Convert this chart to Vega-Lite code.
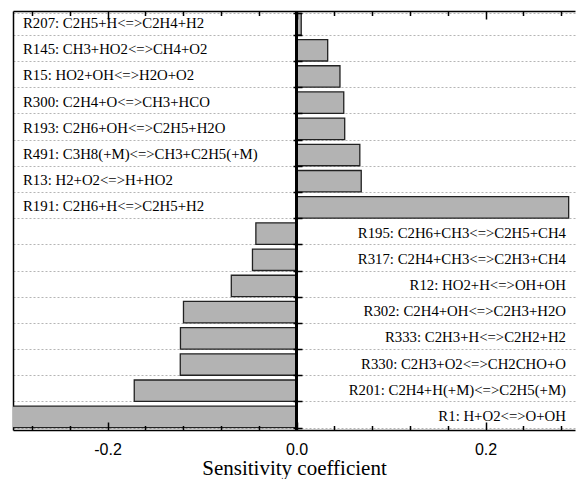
{
  "$schema": "https://vega.github.io/schema/vega-lite/v6.json",
  "width": 562,
  "height": 419,
  "autosize": "none",
  "padding": {"left": 13, "top": 11, "right": 1, "bottom": 49},
  "background": "white",
  "config": {"view": {"stroke": null}},
  "data": {"values": [
    {"reaction": "R207: C2H5+H<=>C2H4+H2", "value": 0.005},
    {"reaction": "R145: CH3+HO2<=>CH4+O2", "value": 0.033},
    {"reaction": "R15: HO2+OH<=>H2O+O2", "value": 0.046},
    {"reaction": "R300: C2H4+O<=>CH3+HCO", "value": 0.050},
    {"reaction": "R193: C2H6+OH<=>C2H5+H2O", "value": 0.051},
    {"reaction": "R491: C3H8(+M)<=>CH3+C2H5(+M)", "value": 0.067},
    {"reaction": "R13: H2+O2<=>H+HO2", "value": 0.0685},
    {"reaction": "R191: C2H6+H<=>C2H5+H2", "value": 0.288},
    {"reaction": "R195: C2H6+CH3<=>C2H5+CH4", "value": -0.043},
    {"reaction": "R317: C2H4+CH3<=>C2H3+CH4", "value": -0.0466},
    {"reaction": "R12: HO2+H<=>OH+OH", "value": -0.069},
    {"reaction": "R302: C2H4+OH<=>C2H3+H2O", "value": -0.1196},
    {"reaction": "R333: C2H3+H<=>C2H2+H2", "value": -0.1228},
    {"reaction": "R330: C2H3+O2<=>CH2CHO+O", "value": -0.123},
    {"reaction": "R201: C2H4+H(+M)<=>C2H5(+M)", "value": -0.1717},
    {"reaction": "R1: H+O2<=>O+OH", "value": -0.31}
  ]},
  "layer": [
    {
      "mark": {"type": "bar", "fill": "#b3b3b3", "stroke": "#222222", "strokeWidth": 1.3, "clip": true},
      "encoding": {
        "x": {
          "field": "value", "type": "quantitative",
          "scale": {"domain": [-0.3, 0.2947], "nice": false, "zero": false},
          "axis": {
            "orient": "bottom",
            "values": [-0.28, -0.24, -0.2, -0.16, -0.12, -0.08, -0.04, 0, 0.04, 0.08, 0.12, 0.16, 0.2, 0.24, 0.28],
            "tickSize": {"condition": {"test": "abs(datum.value) < 0.001 || abs(abs(datum.value) - 0.2) < 0.001", "value": -8}, "value": -4.5},
            "labelExpr": "abs(datum.value + 0.2) < 0.001 ? '-0.2' : (abs(datum.value - 0.2) < 0.001 ? '0.2' : (abs(datum.value) < 0.001 ? '0.0' : ''))",
            "labelFont": "Liberation Sans",
            "labelFontSize": 16,
            "labelColor": "#000000",
            "labelPadding": 19,
            "labelFlush": false,
            "labelOverlap": false,
            "tickColor": "#000000",
            "tickWidth": 1.5,
            "domainColor": "#000000",
            "domainWidth": 1.5,
            "grid": false,
            "title": "Sensitivity coefficient",
            "titleFont": "Liberation Serif",
            "titleFontSize": 21,
            "titleFontWeight": "normal",
            "titleColor": "#000000",
            "titlePadding": -3,
            "zindex": 1
          }
        },
        "y": {
          "field": "reaction", "type": "nominal", "sort": null,
          "scale": {"paddingInner": 0.18, "paddingOuter": 0.09},
          "axis": {
            "orient": "left",
            "offset": -280,
            "domain": false,
            "labels": false,
            "title": null,
            "grid": false,
            "tickBand": "extent",
            "tickSize": -9,
            "tickWidth": 1.5,
            "tickColor": "#000000",
            "zindex": 1
          }
        }
      }
    },
    {
      "mark": {"type": "text", "align": "left", "baseline": "middle", "font": "Liberation Serif", "fontSize": 14.8, "dx": 10, "color": "#000000"},
      "encoding": {
        "x": {
          "datum": -0.3, "type": "quantitative",
          "axis": {
            "orient": "top",
            "values": [-0.28, -0.24, -0.2, -0.16, -0.12, -0.08, -0.04, 0, 0.04, 0.08, 0.12, 0.16, 0.2, 0.24, 0.28],
            "tickSize": {"condition": {"test": "abs(datum.value) < 0.001 || abs(abs(datum.value) - 0.2) < 0.001", "value": -8}, "value": -4.5},
            "labels": false,
            "tickColor": "#000000",
            "tickWidth": 1.5,
            "domainColor": "#000000",
            "domainWidth": 1.5,
            "grid": false,
            "title": null,
            "zindex": 1
          }
        },
        "y": {
          "field": "reaction", "type": "nominal", "sort": null,
          "axis": {
            "orient": "left",
            "offset": 0,
            "domain": true,
            "domainColor": "#000000",
            "domainWidth": 1.5,
            "ticks": false,
            "labels": false,
            "title": null,
            "grid": true,
            "gridDash": [2, 2],
            "gridColor": "#b5b5b5",
            "gridWidth": 1,
            "tickBand": "extent"
          }
        },
        "text": {"condition": {"test": "datum.value > 0", "field": "reaction"}, "value": ""}
      }
    },
    {
      "mark": {"type": "text", "align": "right", "baseline": "middle", "font": "Liberation Serif", "fontSize": 14.8, "dx": -9, "color": "#000000"},
      "encoding": {
        "x": {"datum": 0.2947, "type": "quantitative", "axis": null},
        "y": {"field": "reaction", "type": "nominal", "sort": null, "axis": null},
        "text": {"condition": {"test": "datum.value < 0", "field": "reaction"}, "value": ""}
      }
    },
    {
      "mark": {"type": "rule", "color": "#000000", "strokeWidth": 1.5},
      "encoding": {
        "x": {"datum": 0, "type": "quantitative", "axis": null}
      }
    }
  ],
  "resolve": {"axis": {"x": "independent", "y": "independent"}}
}
